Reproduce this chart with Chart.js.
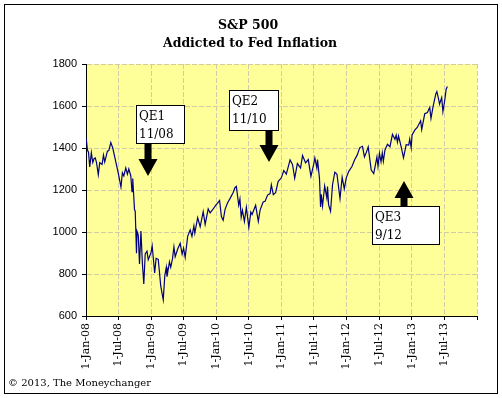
<!DOCTYPE html>
<html>
<head>
<meta charset="utf-8">
<title>S&amp;P 500</title>
<script src="https://cdn.jsdelivr.net/npm/chart.js@4.4.0/dist/chart.umd.min.js"></script>
<style>
  body { margin: 0; background: #fff; }
  canvas { display: block; }
</style>
</head>
<body>
<canvas id="chart" width="502" height="398"></canvas>
<script>
// S&P 500 closes
const dates = [
    "2008-01-02", "2008-01-09", "2008-01-15", "2008-01-22", "2008-01-31", "2008-02-08", "2008-02-15", "2008-02-22",
    "2008-02-29", "2008-03-10", "2008-03-18", "2008-03-31", "2008-04-08", "2008-04-15", "2008-04-30", "2008-05-08",
    "2008-05-19", "2008-05-30", "2008-06-10", "2008-06-20", "2008-06-30", "2008-07-15", "2008-07-23", "2008-07-31",
    "2008-08-11", "2008-08-20", "2008-08-28", "2008-09-08", "2008-09-15", "2008-09-19", "2008-09-29", "2008-10-03",
    "2008-10-10", "2008-10-13", "2008-10-20", "2008-10-27", "2008-11-04", "2008-11-12", "2008-11-20", "2008-11-28",
    "2008-12-08", "2008-12-15", "2008-12-31", "2009-01-06", "2009-01-20", "2009-01-28", "2009-02-09", "2009-02-23",
    "2009-03-09", "2009-03-18", "2009-03-26", "2009-03-30", "2009-04-13", "2009-04-20", "2009-04-30", "2009-05-08",
    "2009-05-15", "2009-05-29", "2009-06-12", "2009-06-23", "2009-07-01", "2009-07-10", "2009-07-24", "2009-08-07",
    "2009-08-17", "2009-08-28", "2009-09-02", "2009-09-18", "2009-10-02", "2009-10-19", "2009-10-30", "2009-11-16",
    "2009-11-27", "2009-12-11", "2009-12-28", "2010-01-19", "2010-01-29", "2010-02-08", "2010-02-19", "2010-03-05",
    "2010-03-19", "2010-04-05", "2010-04-15", "2010-04-23", "2010-05-06", "2010-05-13", "2010-05-20", "2010-05-27",
    "2010-06-07", "2010-06-18", "2010-07-02", "2010-07-13", "2010-07-20", "2010-08-09", "2010-08-24", "2010-09-03",
    "2010-09-20", "2010-10-01", "2010-10-15", "2010-10-29", "2010-11-05", "2010-11-16", "2010-11-29", "2010-12-13",
    "2010-12-31", "2011-01-14", "2011-01-28", "2011-02-18", "2011-03-04", "2011-03-16", "2011-03-31", "2011-04-18",
    "2011-04-29", "2011-05-16", "2011-05-31", "2011-06-15", "2011-06-30", "2011-07-07", "2011-07-18", "2011-07-22",
    "2011-08-02", "2011-08-08", "2011-08-12", "2011-08-19", "2011-08-31", "2011-09-12", "2011-09-16", "2011-09-22",
    "2011-10-03", "2011-10-14", "2011-10-27", "2011-11-08", "2011-11-25", "2011-12-07", "2011-12-19", "2011-12-30",
    "2012-01-13", "2012-01-31", "2012-02-15", "2012-02-29", "2012-03-15", "2012-03-30", "2012-04-10", "2012-04-20",
    "2012-05-01", "2012-05-18", "2012-06-01", "2012-06-19", "2012-06-25", "2012-07-03", "2012-07-12", "2012-07-19",
    "2012-07-25", "2012-08-03", "2012-08-17", "2012-08-31", "2012-09-14", "2012-09-28", "2012-10-05", "2012-10-12",
    "2012-10-18", "2012-10-31", "2012-11-15", "2012-11-30", "2012-12-14", "2012-12-20", "2012-12-28", "2013-01-02",
    "2013-01-18", "2013-01-31", "2013-02-19", "2013-02-25", "2013-03-14", "2013-03-29", "2013-04-11", "2013-04-18",
    "2013-04-30", "2013-05-15", "2013-05-21", "2013-05-31", "2013-06-05", "2013-06-17", "2013-06-24", "2013-07-05",
    "2013-07-12", "2013-07-19"
];
const spx = [
    1447, 1390, 1380, 1310, 1378, 1331, 1349, 1353,
    1330, 1273, 1330, 1322, 1366, 1334, 1385, 1388,
    1426, 1400, 1358, 1318, 1280, 1214, 1282, 1267,
    1305, 1275, 1300, 1268, 1192, 1255, 1106, 1099,
    899, 1003, 985, 848, 1005, 852, 752, 896,
    909, 868, 903, 934, 805, 874, 870, 743,
    677, 794, 832, 787, 858, 832, 873, 929,
    882, 919, 946, 895, 923, 879, 979, 1010,
    979, 1029, 995, 1068, 1025, 1097, 1036, 1110,
    1091, 1106, 1127, 1150, 1074, 1056, 1109, 1139,
    1160, 1188, 1211, 1217, 1128, 1157, 1071, 1103,
    1050, 1117, 1022, 1095, 1083, 1127, 1051, 1104,
    1143, 1146, 1176, 1183, 1225, 1178, 1187, 1240,
    1258, 1293, 1276, 1343, 1321, 1256, 1326, 1305,
    1364, 1329, 1345, 1265, 1321, 1353, 1305, 1345,
    1254, 1119, 1179, 1124, 1219, 1162, 1216, 1129,
    1099, 1225, 1285, 1275, 1159, 1261, 1205, 1258,
    1289, 1312, 1344, 1366, 1402, 1408, 1358, 1378,
    1405, 1295, 1278, 1357, 1313, 1375, 1334, 1376,
    1337, 1391, 1418, 1406, 1465, 1441, 1461, 1428,
    1457, 1412, 1353, 1416, 1414, 1443, 1402, 1462,
    1486, 1498, 1530, 1488, 1563, 1569, 1593, 1541,
    1598, 1658, 1669, 1631, 1609, 1640, 1573, 1632,
    1680, 1693
];
const tickLabels = ["1-Jan-08", "1-Jul-08", "1-Jan-09", "1-Jul-09", "1-Jan-10", "1-Jul-10",
    "1-Jan-11", "1-Jul-11", "1-Jan-12", "1-Jul-12", "1-Jan-13", "1-Jul-13", ""];
const yTicks = [600, 800, 1000, 1200, 1400, 1600, 1800];

// QE arrows: tip sits on (date, value)
const qeDates = ["2008-12-13", "2010-10-23", "2012-11-18"];
const qeValues = [1267, 1333, 1243];
const qeText = [["QE1", "11/08"], ["QE2", "11/10"], ["QE3", "9/12"]];
const qeUp = [false, false, true];
// box look: offset of box left from the tip, width, height, gap from tip to box
const qeBox = [
    { dx: -12, w: 48, h: 38, gap: 33 },
    { dx: -40, w: 49, h: 40, gap: 32 },
    { dx: -32, w: 67, h: 38, gap: 25 }
];

const MONTHS = { Jan: 0, Jul: 6 };
const start = Date.UTC(2008, 0, 1);
const dayOf = (s) => {
    const p = s.split("-");
    return (Date.UTC(+p[0], +p[1] - 1, +p[2]) - start) / 86400000;
};
const labelDay = (lbl) => {
    const p = lbl.split("-");
    return (Date.UTC(2000 + +p[2], MONTHS[p[1]], +p[0]) - start) / 86400000;
};
const tickDays = tickLabels.map((l) => l ? labelDay(l) : dayOf("2014-01-01"));
const points = dates.map((d, i) => ({ x: dayOf(d), y: spx[i] }));

const serif = "'DejaVu Serif', serif";
const gridColor = "#d2cca8";

const decor = {
    id: "decor",
    beforeDraw(chart) {
        const { ctx, chartArea: a } = chart;
        ctx.save();
        ctx.fillStyle = "#fff";
        ctx.fillRect(0, 0, chart.width, chart.height);
        ctx.fillStyle = "#ffff99";
        ctx.fillRect(a.left, a.top, a.right - a.left, a.bottom - a.top);
        ctx.restore();
    },
    afterDraw(chart) {
        const { ctx, scales } = chart;
        ctx.save();
        // frame
        ctx.strokeStyle = "#000";
        ctx.lineWidth = 1;
        ctx.strokeRect(4.5, 4.5, 493, 389);
        // titles
        ctx.fillStyle = "#000";
        ctx.textAlign = "center";
        ctx.textBaseline = "middle";
        ctx.font = "bold 12.5px " + serif;
        ctx.fillText("S&P 500", 248, 26);
        ctx.fillText("Addicted to Fed Inflation", 250, 44);
        ctx.textAlign = "left";
        ctx.font = "10px " + serif;
        ctx.fillText("© 2013, The Moneychanger", 8, 383);

        // QE notes
        ctx.font = "12px " + serif;
        ctx.textBaseline = "alphabetic";
        qeDates.forEach((d, k) => {
            const tx = Math.round(scales.x.getPixelForValue(dayOf(d)));
            const ty = Math.round(scales.y.getPixelForValue(qeValues[k]));
            const b = qeBox[k];
            const dir = qeUp[k] ? 1 : -1;
            const headH = 17, headW = 9.5, shaft = 3.5;
            const boxEdge = ty + dir * b.gap;
            const bx = tx + b.dx;
            const by = qeUp[k] ? boxEdge : boxEdge - b.h;
            ctx.fillStyle = "#000";
            ctx.beginPath();
            ctx.moveTo(tx, ty);
            ctx.lineTo(tx + headW, ty + dir * headH);
            ctx.lineTo(tx + shaft, ty + dir * headH);
            ctx.lineTo(tx + shaft, boxEdge);
            ctx.lineTo(tx - shaft, boxEdge);
            ctx.lineTo(tx - shaft, ty + dir * headH);
            ctx.lineTo(tx - headW, ty + dir * headH);
            ctx.closePath();
            ctx.fill();
            ctx.fillStyle = "#fff";
            ctx.fillRect(bx, by, b.w, b.h);
            ctx.strokeStyle = "#000";
            ctx.strokeRect(bx + 0.5, by + 0.5, b.w, b.h);
            ctx.fillStyle = "#000";
            qeText[k].forEach((t, i) => ctx.fillText(t, bx + 3, by + 15 + i * 18));
        });
        ctx.restore();
    }
};

const chart = new Chart(document.getElementById("chart"), {
    type: "line",
    data: {
        datasets: [{
            data: points,
            borderColor: "#000080",
            borderWidth: 1.2,
            pointRadius: 0,
            tension: 0,
            fill: false
        }]
    },
    options: {
        responsive: false,
        animation: false,
        events: [],
        layout: { padding: { top: 64, right: 25, left: 0, bottom: 0 } },
        plugins: { legend: { display: false }, tooltip: { enabled: false } },
        scales: {
            x: {
                type: "linear",
                min: 0,
                max: dayOf("2014-01-01"),
                afterBuildTicks: (s) => { s.ticks = tickDays.map((v) => ({ value: v })); },
                afterFit: (s) => { s.height = 82; },
                grid: { color: gridColor, tickColor: "#000", tickLength: 4 },
                border: { color: "#000", width: 1, dash: [5, 2] },
                ticks: {
                    autoSkip: false,
                    maxRotation: 90,
                    minRotation: 90,
                    padding: 3,
                    color: "#000",
                    font: { family: serif, size: 11 },
                    callback: (v, i) => tickLabels[i]
                }
            },
            y: {
                min: 600,
                max: 1800,
                afterBuildTicks: (s) => { s.ticks = yTicks.map((v) => ({ value: v })); },
                afterFit: (s) => { s.width = 86; },
                grid: { color: gridColor, tickColor: "#000", tickLength: 4 },
                border: { color: "#000", width: 1, dash: [5, 2] },
                ticks: {
                    padding: 5,
                    color: "#000",
                    font: { family: "'Liberation Sans', Arial, sans-serif", size: 11 },
                    callback: (v) => String(v)
                }
            }
        }
    },
    plugins: [decor]
});
</script>
</body>
</html>
